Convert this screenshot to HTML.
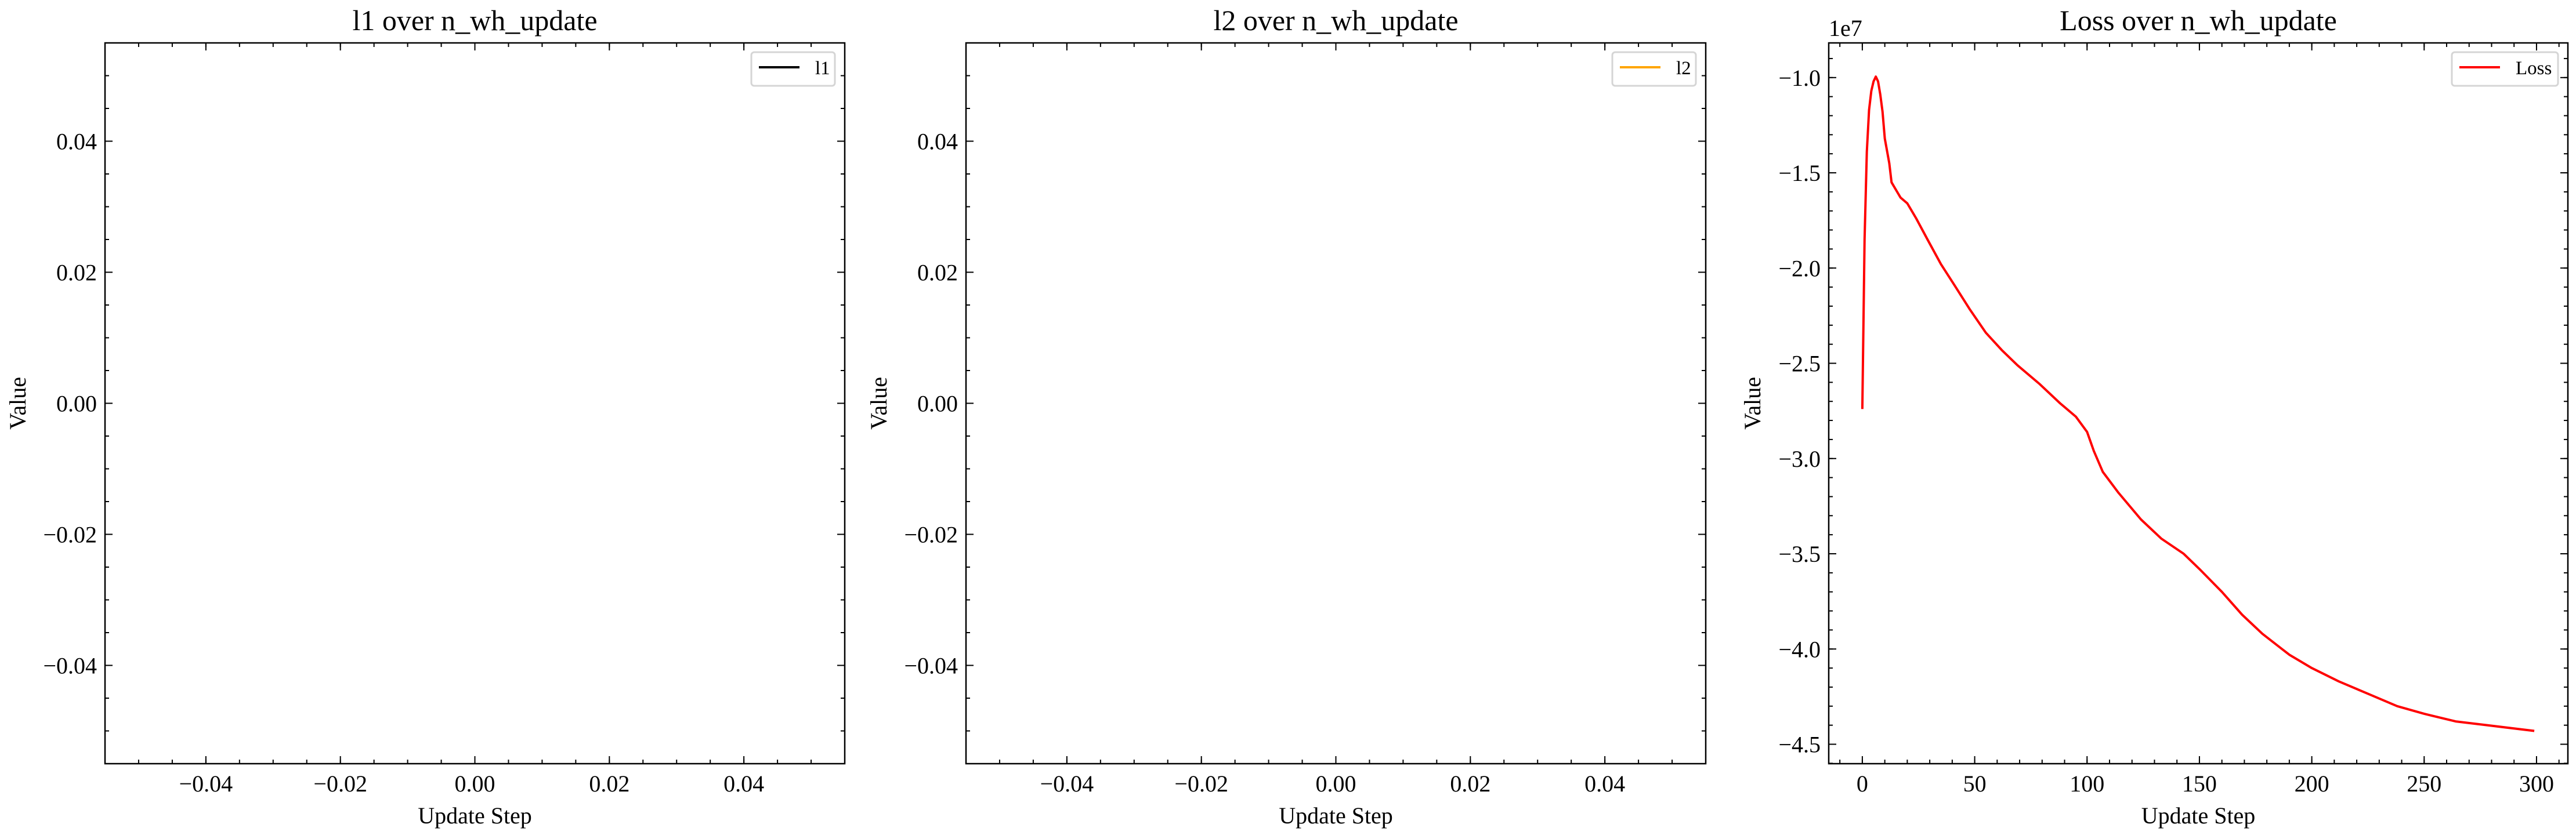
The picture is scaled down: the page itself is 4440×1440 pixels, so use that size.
<!DOCTYPE html>
<html><head><meta charset="utf-8">
<style>
html,body{margin:0;padding:0;background:#fff;}
svg{display:block;font-family:"Liberation Serif","DejaVu Serif",serif;}
</style></head>
<body>
<svg id="fig" width="4440" height="1440" viewBox="0 0 4440 1440" xmlns="http://www.w3.org/2000/svg"></svg>
<script>
// Loss series data (x = update step, y = value in units of 1e7)
const lossSteps = [0,1,2,3,4,5,6,7,8,9,10,12,13,15,17,20,24,29,35,41,48,55,62,69,79,88,95,100,103,107,114,124,133,143,150,160,169,178,190,200,212,226,238,250,264,278,299];
const lossValues = [-2.74,-1.85,-1.39,-1.17,-1.07,-1.02,-0.995,-1.02,-1.09,-1.18,-1.32,-1.45,-1.55,-1.59,-1.63,-1.66,-1.74,-1.85,-1.98,-2.09,-2.22,-2.34,-2.43,-2.51,-2.61,-2.71,-2.78,-2.86,-2.96,-3.07,-3.18,-3.32,-3.42,-3.50,-3.58,-3.70,-3.82,-3.92,-4.03,-4.10,-4.17,-4.24,-4.30,-4.34,-4.38,-4.40,-4.43];
const emptyXTicks = [-0.04,-0.02,0.00,0.02,0.04];
const emptyXTickLabels = ["−0.04","−0.02","0.00","0.02","0.04"];
const emptyYTicks = [-0.04,-0.02,0.00,0.02,0.04];
const emptyYTickLabels = ["−0.04","−0.02","0.00","0.02","0.04"];
const lossXTicks = [0,50,100,150,200,250,300];
const lossXTickLabels = ["0","50","100","150","200","250","300"];
const lossYTicks = [-1.0,-1.5,-2.0,-2.5,-3.0,-3.5,-4.0,-4.5];
const lossYTickLabels = ["−1.0","−1.5","−2.0","−2.5","−3.0","−3.5","−4.0","−4.5"];

const NS = "http://www.w3.org/2000/svg";
const fig = document.getElementById('fig');
function mk(tag, attrs, parent, text){
  const e = document.createElementNS(NS, tag);
  for (const k in attrs) e.setAttribute(k, attrs[k]);
  if (text !== undefined) e.textContent = text;
  (parent||fig).appendChild(e);
  return e;
}
function range(a,b,s){const r=[];for(let v=a;v<=b+1e-9;v+=s)r.push(Math.round(v*1e6)/1e6);return r;}

function panel(cfg){
  const g = mk('g', {});
  
  
  const L=cfg.L,R=cfg.R,T=74,B=1317;
  const sx = v => L + (v-cfg.xmin)/(cfg.xmax-cfg.xmin)*(R-L);
  const sy = v => B - (v-cfg.ymin)/(cfg.ymax-cfg.ymin)*(B-T);
  // title
  const t = mk('text', {x:(L+R)/2, y:52, 'font-size':50, 'text-anchor':'middle', fill:'#000'}, g, cfg.title);
  
  
  // ticks
  const tg = mk('g', {stroke:'#000','stroke-width':2}, g);
  cfg.xminor.forEach(v=>{const x=sx(v); if(x<L||x>R)return;
    mk('line',{x1:x,y1:B,x2:x,y2:B-7},tg); mk('line',{x1:x,y1:T,x2:x,y2:T+7},tg);});
  cfg.yminor.forEach(v=>{const y=sy(v); if(y<T-0.5||y>B+0.5)return;
    mk('line',{x1:L,y1:y,x2:L+7,y2:y},tg); mk('line',{x1:R,y1:y,x2:R-7,y2:y},tg);});
  cfg.xticks.forEach((v,i)=>{const x=sx(v);
    mk('line',{x1:x,y1:B,x2:x,y2:B-13},tg); mk('line',{x1:x,y1:T,x2:x,y2:T+13},tg);
    const lb = mk('text',{x:x,y:1365,'font-size':40,'text-anchor':'middle',fill:'#000',stroke:'none'},g,cfg.xlabels[i]);
    
    
  });
  cfg.yticks.forEach((v,i)=>{const y=sy(v);
    mk('line',{x1:L,y1:y,x2:L+13,y2:y},tg); mk('line',{x1:R,y1:y,x2:R-13,y2:y},tg);
    const lb = mk('text',{x:L-14,y:y+14,'font-size':40,'text-anchor':'end',fill:'#000',stroke:'none'},g,cfg.ylabels[i]);
    
    
  });
  // series
  if (cfg.xs && cfg.xs.length){
    const d = cfg.xs.map((v,i)=>(i?'L':'M')+sx(v).toFixed(2)+' '+sy(cfg.ys[i]).toFixed(2)).join(' ');
    const p = mk('path',{d:d,fill:'none',stroke:cfg.color,'stroke-width':4,'stroke-linejoin':'round'},g);
    
    
  }
  // frame
  const fr = mk('rect',{x:L,y:T,width:R-L,height:B-T,fill:'none',stroke:'#000','stroke-width':2.5},g);
  
  
  // axis labels
  const xl = mk('text',{x:(L+R)/2,y:1420,'font-size':40,'text-anchor':'middle',fill:'#000'},g,'Update Step');
  
  
  const yl = mk('text',{x:0,y:0,'font-size':40,'text-anchor':'middle',fill:'#000',transform:`translate(${cfg.ylx},${(T+B)/2}) rotate(-90)`},g,'Value');
  
  
  if (cfg.offset){
    const o = mk('text',{x:L,y:62,'font-size':40,fill:'#000'},g,cfg.offset);
    
    
  }
  // legend
  const lg = mk('g',{},g);
  
  
  mk('rect',{x:R-cfg.lw-17,y:90,width:cfg.lw,height:58,rx:5,fill:'#fff',stroke:'#d5d5d5','stroke-width':3},lg);
  mk('line',{x1:R-cfg.lw-4,y1:116,x2:R-cfg.lw+66,y2:116,stroke:cfg.color,'stroke-width':4},lg);
  mk('text',{x:R-cfg.lw+93,y:128,'font-size':33,fill:'#000'},lg,cfg.legend);
}

const emptyMinor = range(-0.055,0.055,0.005);
panel({name:'l1-panel',L:181,R:1456,xmin:-0.055,xmax:0.055,ymin:-0.055,ymax:0.055,title:'l1 over n_wh_update',
  xticks:emptyXTicks,xlabels:emptyXTickLabels,yticks:emptyYTicks,ylabels:emptyYTickLabels,
  xminor:emptyMinor,yminor:emptyMinor,color:'#000',legend:'l1',lw:144,ylx:44});
panel({name:'l2-panel',L:1665,R:2940,xmin:-0.055,xmax:0.055,ymin:-0.055,ymax:0.055,title:'l2 over n_wh_update',
  xticks:emptyXTicks,xlabels:emptyXTickLabels,yticks:emptyYTicks,ylabels:emptyYTickLabels,
  xminor:emptyMinor,yminor:emptyMinor,color:'#FFA500',legend:'l2',lw:144,ylx:1528});
panel({name:'loss-panel',L:3152,R:4426,xmin:-14.95,xmax:313.95,ymin:-4.602,ymax:-0.818,title:'Loss over n_wh_update',
  xticks:lossXTicks,xlabels:lossXTickLabels,yticks:lossYTicks,ylabels:lossYTickLabels,
  xminor:range(-10,310,10),yminor:range(-4.6,-0.8,0.1),color:'#FF0000',legend:'Loss',lw:183,ylx:3034,
  xs:lossSteps,ys:lossValues,offset:'1e7'});
</script>
</body></html>
